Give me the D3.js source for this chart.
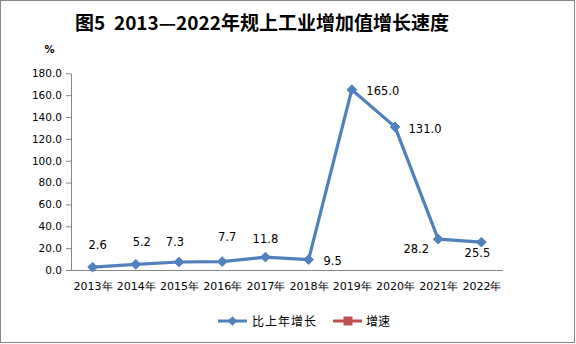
<!DOCTYPE html>
<html>
<head>
<meta charset="utf-8">
<script src="https://cdn.jsdelivr.net/npm/d3@7"></script>
<style>
  html, body { margin: 0; padding: 0; background: #fff; }
  svg { display: block; }
</style>
</head>
<body>
<svg id="chart" width="576" height="344"></svg>
<script>
// Years on the category axis
const years = ["2013年", "2014年", "2015年", "2016年", "2017年", "2018年", "2019年", "2020年", "2021年", "2022年"];
// Growth over previous year, %
const growth = [2.6, 5.2, 7.3, 7.7, 11.8, 9.5, 165.0, 131.0, 28.2, 25.5];
// Value-axis ticks
const yTicks = [0, 20, 40, 60, 80, 100, 120, 140, 160, 180];
// Legend entries
const seriesNames = ["比上年增长", "增速"];

// Per-point label nudges [dx, dy] relative to the marker (dy = text baseline)
const labelNudge = [[5, -18], [6, -18], [-4, -16], [5, -21], [0, -14], [24, 5], [31, 5], [30, 6], [-22, 14], [-4, 15]];

const svg = d3.select("#chart");
const blue = "#4F81BD", red = "#C0504D", axisGrey = "#868686";
const numFont = "'DejaVu Sans', Verdana, sans-serif";
const cjkFont = "'Noto Sans CJK SC', 'DejaVu Sans', sans-serif";

// outer frame
svg.append("rect").attr("x", 0.5).attr("y", 0.5).attr("width", 574).attr("height", 342)
  .attr("fill", "#fff").attr("stroke", axisGrey).attr("stroke-width", 1);

// title
svg.append("text").attr("x", 262).attr("y", 30).attr("text-anchor", "middle")
  .style("white-space", "pre")
  .attr("font-family", cjkFont).attr("font-weight", "bold").attr("font-size", 19)
  .attr("fill", "#000")
  .text("图5  2013—2022年规上工业增加值增长速度");

// unit label
svg.append("text").attr("x", 49.5).attr("y", 53).attr("text-anchor", "middle")
  .attr("font-family", numFont).attr("font-weight", "bold").attr("font-size", 10).attr("fill", "#000").text("%");

const plot = { left: 71, right: 503, top: 73.3, bottom: 270 };

const x = d3.scalePoint().domain(years).range([plot.left, plot.right]).padding(0.5);
const y = d3.scaleLinear().domain([0, 180]).range([plot.bottom, plot.top]);

// value axis
const yAxis = svg.append("g").attr("transform", `translate(${plot.left},0)`)
  .call(d3.axisLeft(y).tickValues(yTicks).tickFormat(d3.format(".1f")).tickSize(5).tickSizeOuter(0));
yAxis.select(".domain").attr("stroke", axisGrey);
yAxis.selectAll(".tick line").attr("stroke", axisGrey);
yAxis.selectAll(".tick text").attr("x", -9).attr("font-family", numFont).attr("font-size", 10.5).attr("fill", "#000");

// category axis
const xAxis = svg.append("g").attr("transform", `translate(0,${plot.bottom})`)
  .call(d3.axisBottom(x).tickSize(0).tickSizeOuter(0));
xAxis.select(".domain").attr("stroke", axisGrey).attr("d", `M${plot.left},0.5H${plot.right}`);
xAxis.selectAll(".tick text").attr("y", 12).attr("dy", "0.71em")
  .attr("font-family", numFont).attr("font-size", 11).attr("fill", "#000");

// series line
const line = d3.line().x((d, i) => x(years[i])).y(d => y(d));
svg.append("path").datum(growth).attr("d", line)
  .attr("fill", "none").attr("stroke", blue).attr("stroke-width", 3.2).attr("stroke-linejoin", "round");

// diamond markers
const diamond = d3.symbol().type(d3.symbolDiamond2).size(60);
svg.append("g").selectAll("path").data(growth).join("path")
  .attr("d", diamond)
  .attr("transform", (d, i) => `translate(${x(years[i])},${y(d)})`)
  .attr("fill", blue).attr("stroke", blue).attr("stroke-width", 1);

// data labels
svg.append("g").selectAll("text").data(growth).join("text")
  .attr("x", (d, i) => x(years[i]) + labelNudge[i][0])
  .attr("y", (d, i) => y(d) + labelNudge[i][1])
  .attr("text-anchor", "middle")
  .attr("font-family", numFont).attr("font-size", 11.5).attr("fill", "#000")
  .text(d => d.toFixed(1));

// legend
const legend = svg.append("g");
const lg1 = legend.append("g").attr("transform", "translate(218,321)");
lg1.append("line").attr("x1", 0).attr("x2", 29).attr("stroke", blue).attr("stroke-width", 3);
lg1.append("path").attr("d", diamond).attr("transform", "translate(14.5,0)").attr("fill", blue);
lg1.append("text").attr("x", 34).attr("y", 5).attr("font-family", cjkFont).attr("font-size", 12)
  .attr("letter-spacing", 1).attr("fill", "#000").text(seriesNames[0]);

const lg2 = legend.append("g").attr("transform", "translate(333,321)");
lg2.append("line").attr("x1", 0).attr("x2", 29).attr("stroke", red).attr("stroke-width", 3);
lg2.append("rect").attr("x", 10.5).attr("y", -4.5).attr("width", 9).attr("height", 9).attr("fill", red);
lg2.append("text").attr("x", 33).attr("y", 5).attr("font-family", cjkFont).attr("font-size", 12)
  .attr("fill", "#000").text(seriesNames[1]);
</script>
</body>
</html>
